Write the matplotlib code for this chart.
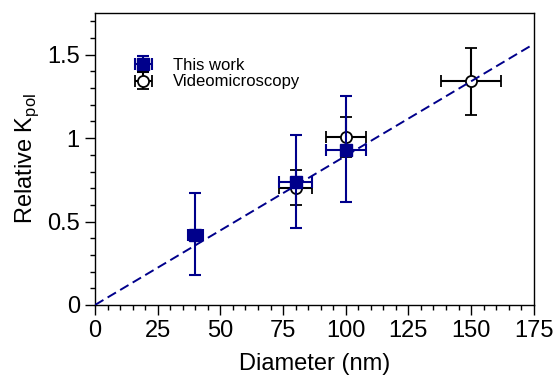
import matplotlib
matplotlib.use("Agg")
import numpy as np
import matplotlib.pyplot as plt
from matplotlib.ticker import MultipleLocator

plt.rcParams['font.family'] = ['Liberation Sans', 'DejaVu Sans']

NAVY = '#00008B'

# This work
tw_x = [40, 80, 100]
tw_y = [0.42, 0.74, 0.93]
tw_ylo = [0.18, 0.46, 0.615]
tw_yhi = [0.67, 1.02, 1.25]
tw_xerr = [3, 6.5, 8]

# Videomicroscopy
vm_x = [80, 100, 150]
vm_y = [0.70, 1.005, 1.34]
vm_ylo = [0.60, 0.885, 1.14]
vm_yhi = [0.81, 1.125, 1.54]
vm_xerr = [6.5, 8, 12]

# linear fit through origin
fit_slope = 0.00894
fit_x = [0, 175]

fig = plt.figure(figsize=(5.56, 3.85), dpi=100)
ax = fig.add_axes([0.171, 0.208, 0.789, 0.758])

vm_yerr = [np.subtract(vm_y, vm_ylo), np.subtract(vm_yhi, vm_y)]
tw_yerr = [np.subtract(tw_y, tw_ylo), np.subtract(tw_yhi, tw_y)]

h_vm = ax.errorbar(vm_x, vm_y, yerr=vm_yerr, xerr=vm_xerr, fmt='o', mfc='white', mec='black',
                   ms=8, mew=1.3, ecolor='black', elinewidth=1.5, capsize=4, capthick=1.5,
                   label='Videomicroscopy', zorder=3)
h_tw = ax.errorbar(tw_x, tw_y, yerr=tw_yerr, xerr=tw_xerr, fmt='s', color=NAVY, mec=NAVY,
                   ms=8.5, ecolor=NAVY, elinewidth=1.5, capsize=4, capthick=1.5,
                   label='This work', zorder=4)
ax.plot(fit_x, np.multiply(fit_x, fit_slope), '--', color=NAVY, lw=1.4, dashes=(5, 2.5), zorder=5)

ax.set_xlim(0, 175)
ax.set_ylim(0, 1.75)
ax.xaxis.set_major_locator(MultipleLocator(25))
ax.xaxis.set_minor_locator(MultipleLocator(5))
ax.yaxis.set_major_locator(MultipleLocator(0.5))
ax.yaxis.set_minor_locator(MultipleLocator(0.1))
ax.set_yticks([0, 0.5, 1, 1.5])
ax.set_yticklabels(['0', '0.5', '1', '1.5'])
ax.tick_params(which='major', length=7, width=1, labelsize=17, direction='out', pad=4)
ax.tick_params(which='minor', length=3.5, width=1, direction='out')
ax.tick_params(top=False, right=False, which='both')
for s in ax.spines.values():
    s.set_linewidth(1)

ax.set_xlabel('Diameter (nm)', fontsize=17, labelpad=8)
ax.set_ylabel('Relative K$_{\\mathregular{pol}}$', fontsize=17, labelpad=4)

ax.legend([h_tw, h_vm], ['This work', 'Videomicroscopy'], loc='upper left',
          bbox_to_anchor=(0.072, 0.87), frameon=False, fontsize=12, handlelength=1.2,
          handletextpad=1.2, labelspacing=0.1, borderaxespad=0)

fig.savefig('out.png', dpi=100)
